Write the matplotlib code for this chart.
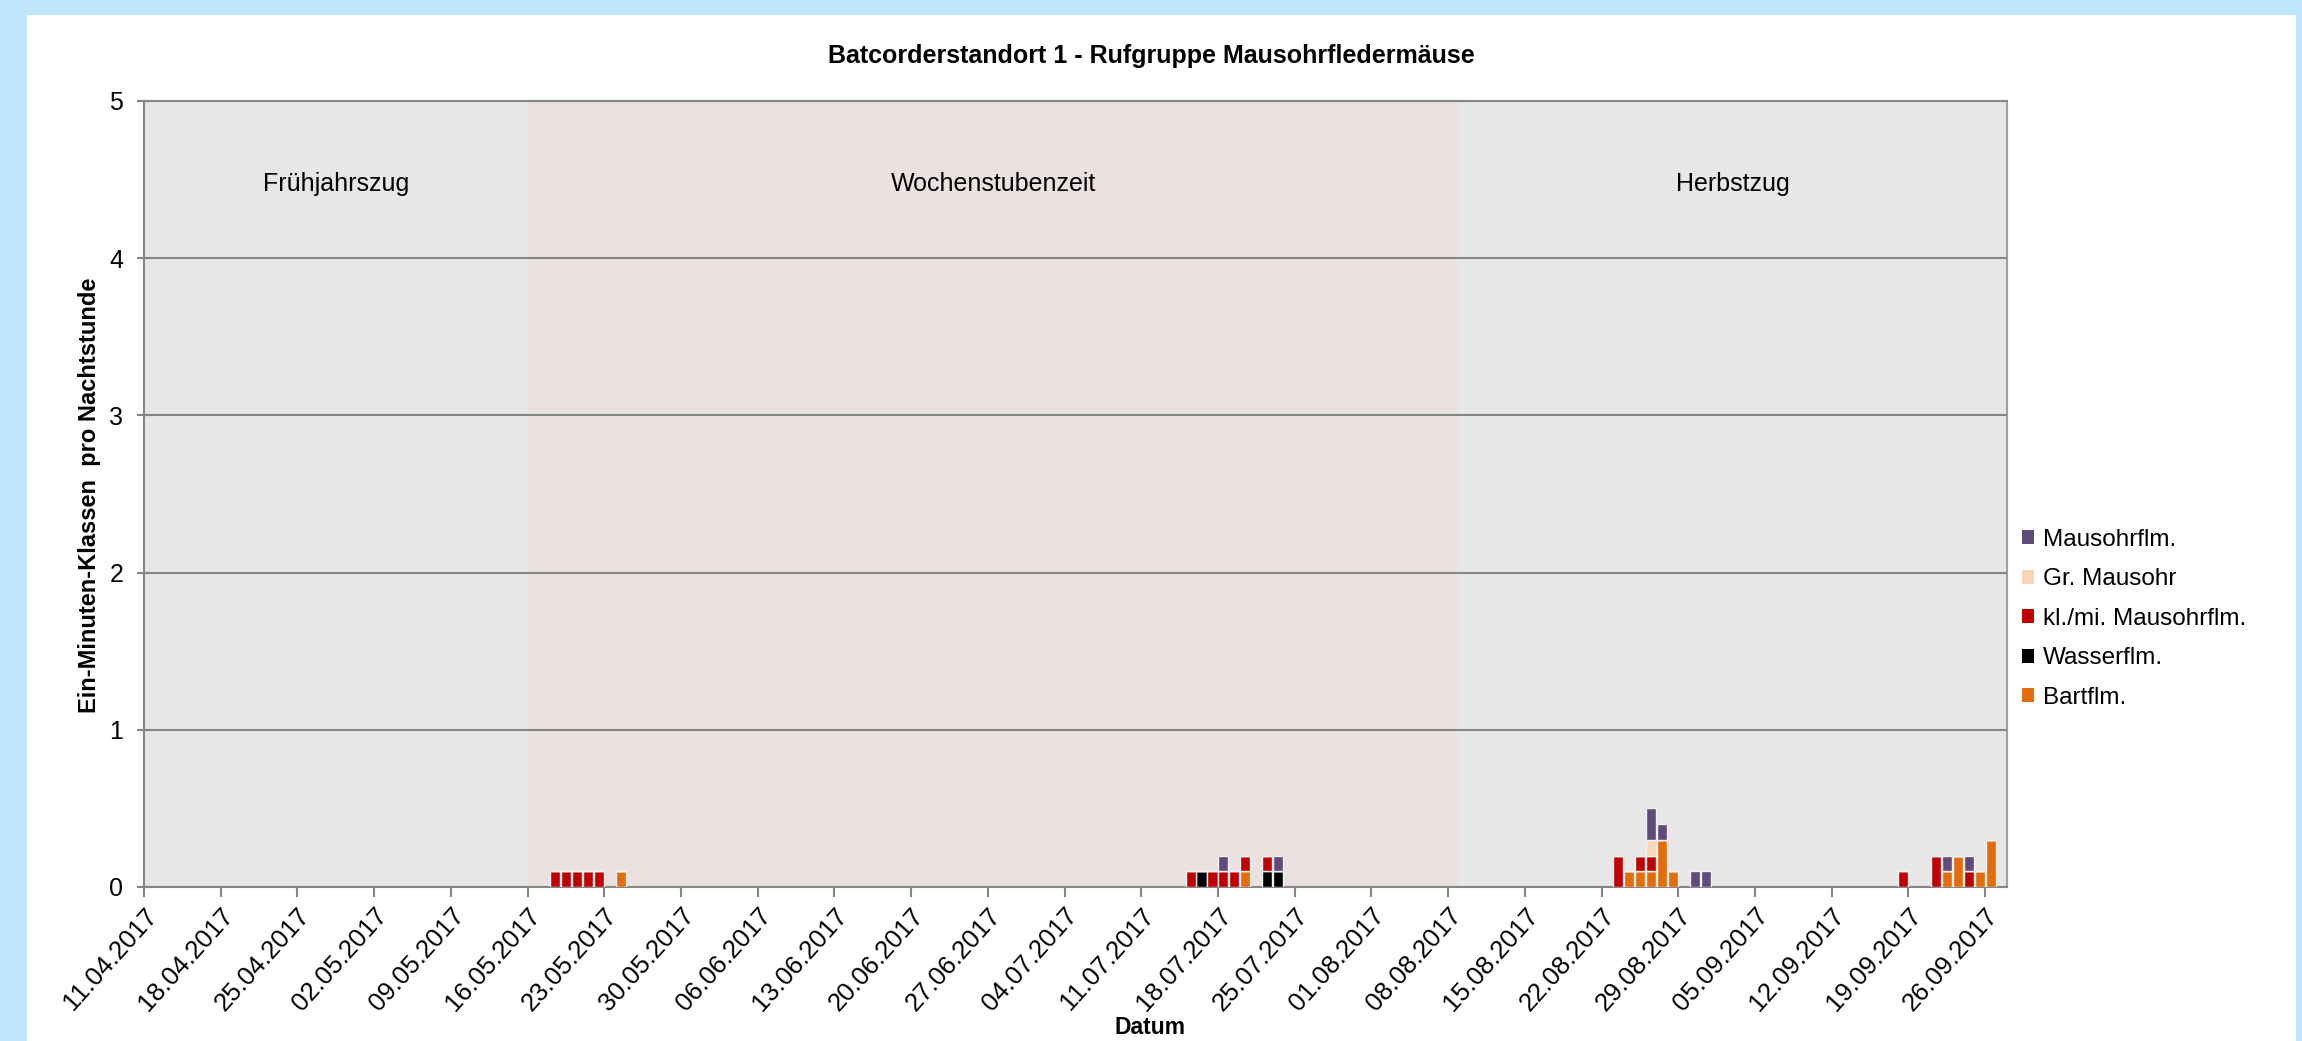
import datetime as dt
import matplotlib
matplotlib.use("Agg")
import matplotlib.pyplot as plt
from matplotlib.patches import Rectangle, Patch
import numpy as np

plt.rcParams['font.family'] = ['Liberation Sans', 'DejaVu Sans']

# ---------------- data ----------------
start_date = "11.04.2017"
end_date = "28.09.2017"

dates = ["18.05.2017", "19.05.2017", "20.05.2017", "21.05.2017", "22.05.2017",
         "24.05.2017",
         "15.07.2017", "16.07.2017", "17.07.2017", "18.07.2017", "19.07.2017",
         "20.07.2017", "22.07.2017", "23.07.2017",
         "23.08.2017", "24.08.2017", "25.08.2017", "26.08.2017", "27.08.2017",
         "28.08.2017", "30.08.2017", "31.08.2017",
         "18.09.2017", "21.09.2017", "22.09.2017", "23.09.2017", "24.09.2017",
         "25.09.2017", "26.09.2017"]

# stacked bottom -> top
bartflm   = [0, 0, 0, 0, 0, 0.1,  0, 0, 0, 0, 0, 0.1, 0, 0,
             0, 0.1, 0.1, 0.1, 0.3, 0.1, 0, 0,   0, 0, 0.1, 0.2, 0, 0.1, 0.3]
wasserflm = [0, 0, 0, 0, 0, 0,    0, 0.1, 0, 0, 0, 0, 0.1, 0.1,
             0, 0, 0, 0, 0, 0, 0, 0,             0, 0, 0, 0, 0, 0, 0]
klmi      = [0.1, 0.1, 0.1, 0.1, 0.1, 0,  0.1, 0, 0.1, 0.1, 0.1, 0.1, 0.1, 0,
             0.2, 0, 0.1, 0.1, 0, 0, 0, 0,       0.1, 0.2, 0, 0, 0.1, 0, 0]
gr_mausohr = [0, 0, 0, 0, 0, 0,   0, 0, 0, 0, 0, 0, 0, 0,
              0, 0, 0, 0.1, 0, 0, 0, 0,          0, 0, 0, 0, 0, 0, 0]
mausohrflm = [0, 0, 0, 0, 0, 0,   0, 0, 0, 0.1, 0, 0, 0, 0.1,
              0, 0, 0, 0.2, 0.1, 0, 0.1, 0.1,    0, 0, 0.1, 0, 0.1, 0, 0]

series_names = ["Bartflm.", "Wasserflm.", "kl./mi. Mausohrflm.", "Gr. Mausohr", "Mausohrflm."]
series_values = [bartflm, wasserflm, klmi, gr_mausohr, mausohrflm]
series_colors = ["#e46c0a", "#000000", "#c00000", "#fcd5b5", "#604a7b"]

tick_labels = ["11.04.2017", "18.04.2017", "25.04.2017", "02.05.2017", "09.05.2017",
               "16.05.2017", "23.05.2017", "30.05.2017", "06.06.2017", "13.06.2017",
               "20.06.2017", "27.06.2017", "04.07.2017", "11.07.2017", "18.07.2017",
               "25.07.2017", "01.08.2017", "08.08.2017", "15.08.2017", "22.08.2017",
               "29.08.2017", "05.09.2017", "12.09.2017", "19.09.2017", "26.09.2017"]

periods = ["Frühjahrszug", "Wochenstubenzeit", "Herbstzug"]
period_starts = ["11.04.2017", "16.05.2017", "09.08.2017"]
period_ends = ["16.05.2017", "09.08.2017", "28.09.2017"]
period_colors = ["#e7e7e7", "#ece1e1", "#e7e7e7"]
period_label_level = 4.47

# ---------------- helpers ----------------
def parse(s):
    return dt.datetime.strptime(s, "%d.%m.%Y")

t0 = parse(start_date)
def day(s):
    return (parse(s) - t0).days

x = np.array([day(d) for d in dates]) + 0.5

# ---------------- figure ----------------
W, H = 2302, 1041
fig = plt.figure(figsize=(W / 100, H / 100), dpi=100)
fig.patch.set_facecolor("#bee5fd")
fig.add_artist(Rectangle((27 / W, 0), (2296 - 27) / W, 1 - 15 / H,
                         transform=fig.transFigure, facecolor="white",
                         edgecolor="none", zorder=0))

ax = fig.add_axes([144 / W, 1 - 887 / H, (2007 - 144) / W, (887 - 101) / H])
ax.set_facecolor("none")

for name, s, e, c in zip(periods, period_starts, period_ends, period_colors):
    ax.axvspan(day(s), day(e), color=c, zorder=0, lw=0)
    ax.text((day(s) + day(e)) / 2, period_label_level, name, ha="center",
            va="center", fontsize=18, zorder=3)

bottom = np.zeros(len(dates))
handles = []
for name, vals, col in zip(series_names, series_values, series_colors):
    vals = np.array(vals, dtype=float)
    ax.bar(x, vals, bottom=bottom, width=0.92, color=col,
           edgecolor="#f4f0f0", linewidth=1.0, zorder=4)
    bottom += vals
    handles.append(Patch(facecolor=col, edgecolor="none", label=name))

ax.set_xlim(0, day(end_date))
ax.set_ylim(0, 5)
ax.set_yticks(range(0, 6))
ax.yaxis.grid(True, color="#868686", linewidth=1.5, zorder=1)
ax.set_axisbelow(False)
for ln in ax.get_ygridlines():
    ln.set_zorder(1)

ax.set_xticks([day(t) for t in tick_labels])
ax.set_xticklabels(tick_labels, rotation=48, ha="right", rotation_mode="anchor",
                   fontsize=18.5)
ax.tick_params(axis="x", direction="out", length=7, width=1.5, color="#868686", pad=5)
ax.tick_params(axis="y", direction="inout", length=10, width=1.5, color="#868686",
               labelsize=18, pad=10)

for side in ["left", "bottom", "top"]:
    ax.spines[side].set_color("#868686")
    ax.spines[side].set_linewidth(1.5)
ax.spines["right"].set_color("#a0a0a0")
ax.spines["right"].set_linewidth(1.5)

fig.text(1151 / W, 1 - 56 / H, "Batcorderstandort 1 - Rufgruppe Mausohrfledermäuse",
         ha="center", va="center", fontsize=18, fontweight="bold")
fig.text(1150 / W, 1 - 1027 / H, "Datum", ha="center", va="center",
         fontsize=16.5, fontweight="bold")
fig.text(90 / W, 1 - 495 / H, "Ein-Minuten-Klassen  pro Nachtstunde", ha="center",
         va="center", rotation=90, fontsize=17, fontweight="bold")

leg = fig.legend(handles=handles[::-1], loc="upper left",
                 bbox_to_anchor=(2000 / W, 1 - 507 / H), frameon=False,
                 fontsize=17.5, handlelength=0.5, handleheight=0.5,
                 handletextpad=0.35, labelspacing=0.72)

fig.savefig("out.png", dpi=100, facecolor=fig.get_facecolor())
